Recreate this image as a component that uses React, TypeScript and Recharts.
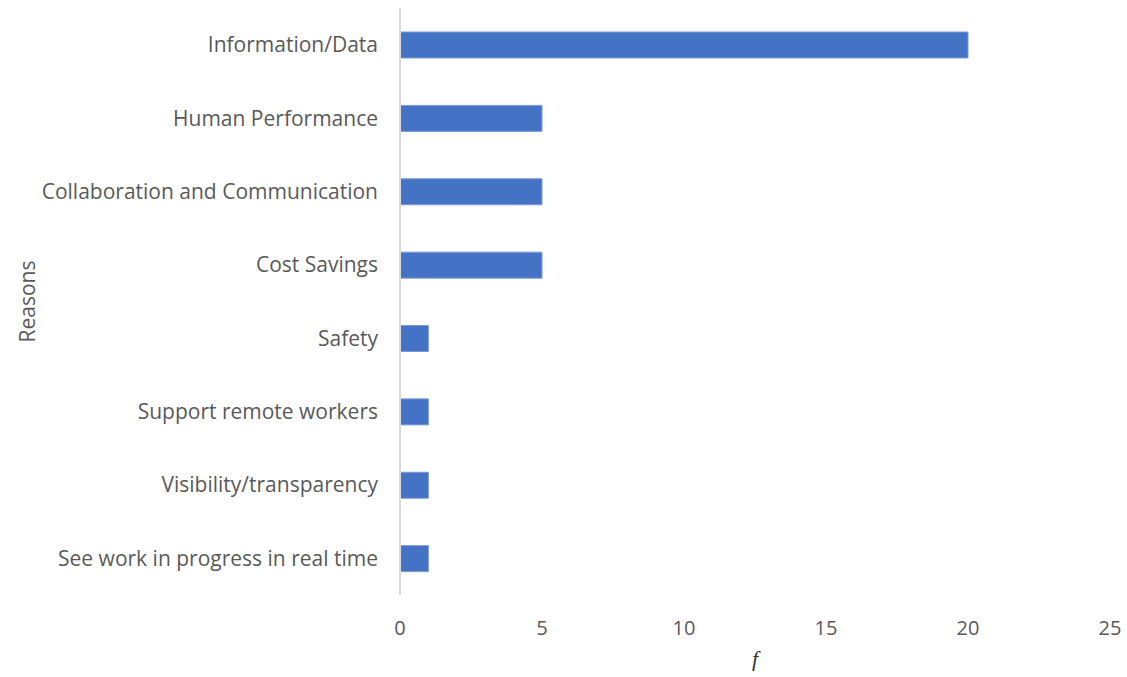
import React from 'react';
import { BarChart, Bar, XAxis, YAxis, Label } from 'recharts';

const reasons = [
  'Information/Data',
  'Human Performance',
  'Collaboration and Communication',
  'Cost Savings',
  'Safety',
  'Support remote workers',
  'Visibility/transparency',
  'See work in progress in real time',
];
const counts = [20, 5, 5, 5, 1, 1, 1, 1];
const xTicks = [0, 5, 10, 15, 20, 25];

const data = reasons.map((reason, i) => ({ reason, count: counts[i] }));

const font = '"Open Sans", "Noto Sans", sans-serif';
const grey = '#595959';

export default function App() {
  return (
    <div style={{ position: 'absolute', left: 0, top: 0, width: 1127, height: 677, background: '#fff' }}>
      <BarChart
        width={1127}
        height={677}
        data={data}
        layout="vertical"
        margin={{ top: 8, right: 17, bottom: 22, left: 0 }}
      >
        <XAxis
          type="number"
          domain={[0, 25]}
          ticks={xTicks}
          height={60}
          axisLine={false}
          tickLine={false}
          tick={{ fill: grey, fontSize: 20, fontFamily: font }}
          tickMargin={20}
        >
          <Label
            value="f"
            position="insideBottom"
            offset={-11}
            style={{ fill: '#333', fontSize: 22, fontStyle: 'italic', fontFamily: 'serif' }}
          />
        </XAxis>
        <YAxis
          type="category"
          dataKey="reason"
          width={400}
          axisLine={{ stroke: '#d9d9d9', strokeWidth: 2 }}
          tickLine={false}
          tick={{ fill: grey, fontSize: 21, fontFamily: font }}
          tickMargin={16}
        >
          <Label
            value="Reasons"
            angle={-90}
            position="insideLeft"
            offset={28}
            style={{ fill: grey, fontSize: 21, fontFamily: font, textAnchor: 'middle' }}
          />
        </YAxis>
        <Bar dataKey="count" fill="#4472C4" stroke="#7d9bd6" strokeWidth={1} barSize={26} isAnimationActive={false} />
      </BarChart>
    </div>
  );
}
